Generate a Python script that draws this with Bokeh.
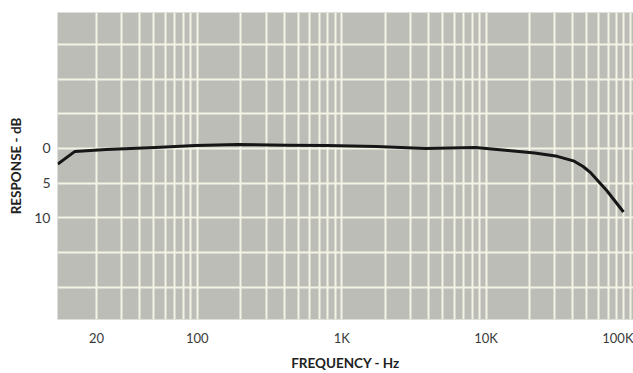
from bokeh.plotting import figure
from bokeh.models import FixedTicker, Range1d
from bokeh.embed import file_html
from bokeh.resources import INLINE

# Response curve (frequency in Hz, attenuation in dB; positive = below 0 dB)
freq_hz = [10.8, 14.2, 23.4, 51.5, 97, 191, 420, 789, 1738, 3819, 8414,
           14200, 21700, 31100, 40800, 47000, 53200, 68500, 89500]
atten_db = [2.25, 0.42, 0.14, -0.14, -0.42, -0.56, -0.48, -0.42, -0.28, 0.0, -0.14,
            0.28, 0.66, 1.13, 1.83, 2.6, 3.52, 6.06, 9.15]

x_tick_values = [20, 100, 1000, 10000, 100000]
x_tick_labels = ["20", "100", "1K", "10K", "100K"]
y_tick_values = [0, 5, 10]
grid_db = [-15, -10, -5, 0, 5, 10, 15, 20]
grid_freqs = [m * 10 ** d for d in range(1, 6) for m in range(1, 10)]

FONT = "Lato"

p = figure(width=633, height=373, x_axis_type="log",
           x_range=Range1d(10.75, 105000), y_range=Range1d(24.65, -19.6),
           output_backend="svg", toolbar_location=None,
           min_border_left=57, min_border_right=0, min_border_top=12,
           min_border_bottom=45)

p.background_fill_color = "#bdbdb8"
p.border_fill_color = "white"
p.outline_line_color = None

p.xgrid.ticker = FixedTicker(ticks=grid_freqs)
p.ygrid.ticker = FixedTicker(ticks=grid_db)
for g in (p.xgrid, p.ygrid):
    g.grid_line_color = "#f3f3e6"
    g.grid_line_width = 2
    g.grid_line_alpha = 1.0

p.xaxis.ticker = FixedTicker(ticks=x_tick_values)
p.xaxis.major_label_overrides = {v: l for v, l in zip(x_tick_values, x_tick_labels)}
p.yaxis.ticker = FixedTicker(ticks=y_tick_values)

for ax in (p.xaxis, p.yaxis):
    ax.axis_line_color = None
    ax.major_tick_line_color = None
    ax.minor_tick_line_color = None
    ax.major_tick_out = 0
    ax.minor_tick_out = 0
    ax.major_tick_in = 0
    ax.minor_tick_in = 0
    ax.major_label_text_font = FONT
    ax.major_label_text_font_size = "13px"
    ax.major_label_text_color = "#3a3a3a"
    ax.axis_label_text_font = FONT
    ax.axis_label_text_font_style = "bold"
    ax.axis_label_text_font_size = "13.5px"
    ax.axis_label_text_color = "#222222"

p.xaxis.axis_label = "FREQUENCY - Hz"
p.xaxis.major_label_standoff = 10
p.xaxis.axis_label_standoff = 6
p.yaxis.axis_label = "RESPONSE - dB"
p.yaxis.major_label_standoff = 7
p.yaxis.axis_label_standoff = 7
p.yaxis.major_label_text_font_size = "14px"

p.line(freq_hz, atten_db, line_width=3, color="#161616", line_join="round")

open("out.html", "w").write(file_html(p, INLINE))
